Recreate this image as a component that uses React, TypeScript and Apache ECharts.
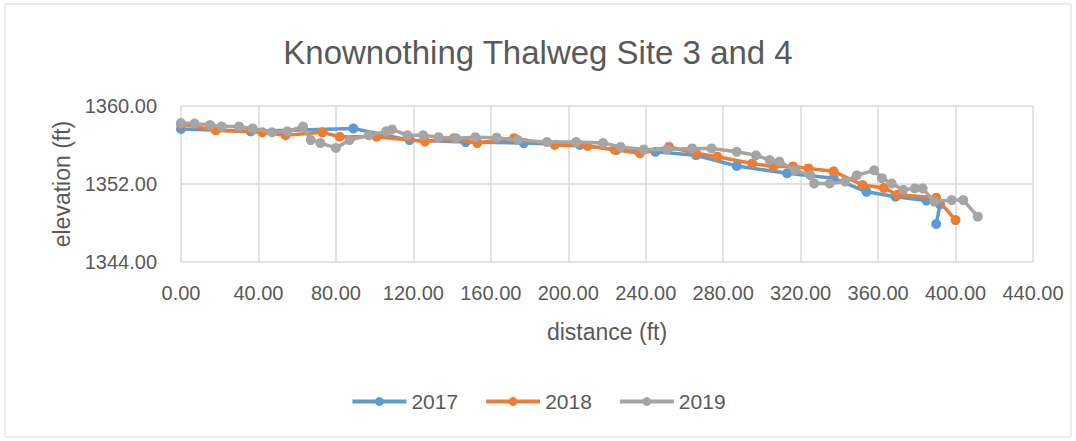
import React, { useEffect, useRef } from "react";
import * as echarts from "echarts";

const title = "Knownothing Thalweg Site 3 and 4";
const xAxisTitle = "distance (ft)";
const yAxisTitle = "elevation (ft)";
const seriesNames = ["2017", "2018", "2019"];
const seriesColors = ["#5b9bd5", "#ed7d31", "#a5a5a5"];

const dist2017 = [0, 36, 89, 118, 147, 177, 206, 225, 245, 266, 287, 313, 337, 354, 369, 385, 392, 390];
const elev2017 = [1357.65, 1357.4, 1357.7, 1356.5, 1356.3, 1356.2, 1356.0, 1355.5, 1355.3, 1354.95, 1353.85, 1353.1, 1352.6, 1351.2, 1350.7, 1350.3, 1349.9, 1347.9];

const dist2018 = [0, 18, 42, 54, 73, 82, 101, 126, 141, 153, 172, 193, 210, 224, 237, 252, 266, 277, 295, 306, 316, 324, 337, 352, 363, 370, 390, 400];
const elev2018 = [1358.15, 1357.5, 1357.3, 1357.0, 1357.3, 1356.85, 1356.85, 1356.35, 1356.7, 1356.2, 1356.7, 1356.0, 1355.9, 1355.5, 1355.15, 1355.8, 1355.15, 1354.8, 1354.1, 1353.8, 1353.8, 1353.6, 1353.3, 1351.9, 1351.6, 1350.9, 1350.6, 1348.3];

const dist2019 = [0, 7, 15, 21, 30, 37, 47, 55, 63, 67, 72, 80, 87, 97, 106, 109, 117, 125, 133, 142, 152, 163, 174, 189, 204, 218, 227, 239, 251, 264, 274, 287, 297, 304, 309, 317, 325, 327, 335, 343, 349, 358, 362, 367, 373, 379, 383, 389, 398, 404, 411.5];
const elev2019 = [1358.25, 1358.2, 1358.05, 1357.9, 1357.9, 1357.7, 1357.3, 1357.4, 1357.9, 1356.5, 1356.2, 1355.7, 1356.5, 1357.0, 1357.4, 1357.6, 1357.0, 1357.0, 1356.8, 1356.7, 1356.8, 1356.75, 1356.5, 1356.3, 1356.3, 1356.2, 1355.8, 1355.55, 1355.55, 1355.65, 1355.65, 1355.3, 1354.95, 1354.45, 1354.3, 1353.4, 1352.9, 1352.05, 1352.05, 1352.25, 1352.9, 1353.4, 1352.6, 1352.05, 1351.4, 1351.55, 1351.55, 1350.2, 1350.35, 1350.35, 1348.65];

const xMin = 0, xMax = 440, xStep = 40;
const yMin = 1344, yMax = 1360, yStep = 8;

const pair = (xs: number[], ys: number[]) => xs.map((x, i) => [x, ys[i]]);

const FONT = "Liberation Sans";
const TXT = "#595959";

export default function App() {
  const ref = useRef<HTMLDivElement>(null);
  useEffect(() => {
    document.body.style.margin = "0";
    const chart = echarts.init(ref.current!, null, { renderer: "svg" });
    const data = [pair(dist2017, elev2017), pair(dist2018, elev2018), pair(dist2019, elev2019)];
    chart.setOption({
      animation: false,
      backgroundColor: "#ffffff",
      title: {
        text: title,
        left: "center",
        top: 31,
        textStyle: { fontFamily: FONT, fontSize: 33, fontWeight: "normal", color: TXT },
      },
      graphic: [
        {
          type: "rect",
          shape: { x: 5, y: 4, width: 1066, height: 433 },
          style: { fill: "none", stroke: "#d9d9d9", lineWidth: 1 },
          silent: true,
        },
      ],
      legend: {
        bottom: 24,
        left: "center",
        itemWidth: 54,
        itemHeight: 11,
        itemGap: 26,
        lineStyle: { width: 4 },
        textStyle: { fontFamily: FONT, fontSize: 21, color: TXT },
        data: seriesNames,
      },
      grid: { left: 181, right: 43, top: 106, bottom: 179, containLabel: false },
      xAxis: {
        type: "value",
        min: xMin,
        max: xMax,
        interval: xStep,
        name: xAxisTitle,
        nameLocation: "middle",
        nameGap: 58,
        nameTextStyle: { fontFamily: FONT, fontSize: 23, color: TXT },
        axisLine: { show: false },
        axisTick: { show: false },
        axisLabel: {
          fontFamily: FONT,
          fontSize: 20,
          color: TXT,
          margin: 21,
          formatter: (v: number) => v.toFixed(2),
        },
        splitLine: { show: true, lineStyle: { color: "#d9d9d9", width: 1.5 } },
      },
      yAxis: {
        type: "value",
        min: yMin,
        max: yMax,
        interval: yStep,
        name: yAxisTitle,
        nameLocation: "middle",
        nameGap: 86,
        nameTextStyle: { fontFamily: FONT, fontSize: 23, color: TXT },
        axisLine: { show: false },
        axisTick: { show: false },
        axisLabel: {
          fontFamily: FONT,
          fontSize: 20,
          color: TXT,
          margin: 24,
          formatter: (v: number) => v.toFixed(2),
        },
        splitLine: { show: true, lineStyle: { color: "#d9d9d9", width: 1.5 } },
      },
      series: seriesNames.map((name, i) => ({
        name,
        type: "line",
        data: data[i],
        color: seriesColors[i],
        symbol: "circle",
        symbolSize: 10,
        lineStyle: { width: 3.5, color: seriesColors[i] },
        itemStyle: { color: seriesColors[i] },
        z: 2 + i,
      })),
    });
    return () => chart.dispose();
  }, []);
  return <div ref={ref} style={{ width: 1076, height: 441, position: "absolute", left: 0, top: 0 }} />;
}
